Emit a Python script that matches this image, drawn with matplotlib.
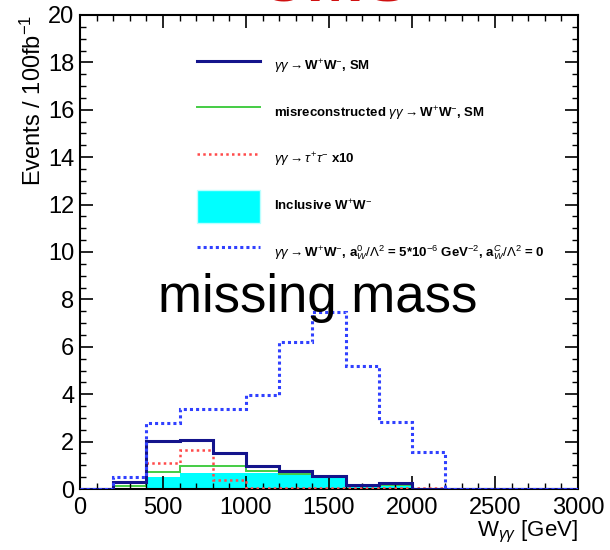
import matplotlib
matplotlib.use("Agg")
import matplotlib.pyplot as plt
from matplotlib.lines import Line2D
from matplotlib.patches import Patch
from matplotlib.ticker import MultipleLocator
import numpy as np

plt.rcParams['font.family'] = ['Liberation Sans', 'DejaVu Sans']
plt.rcParams['mathtext.fontset'] = 'custom'
plt.rcParams['mathtext.rm'] = 'Liberation Sans'
plt.rcParams['mathtext.it'] = 'Liberation Sans:italic'
plt.rcParams['mathtext.bf'] = 'Liberation Sans:bold'

# bin edges (GeV)
bin_edges = [0, 200, 400, 600, 800, 1000, 1200, 1400, 1600, 1800, 2000,
             2200, 2400, 2600, 2800, 3000]

# events / 100 fb^-1 per bin
sm_ww = [0, 0.31, 2.03, 2.07, 1.50, 0.97, 0.75, 0.55, 0.17, 0.26, 0.02, 0, 0, 0, 0]
misreco_ww = [0, 0.12, 0.71, 0.97, 0.97, 0.75, 0.65, 0.50, 0.12, 0.15, 0, 0, 0, 0, 0]
tautau_x10 = [0, 0.30, 1.11, 1.65, 0.38, 0.05, 0.03, 0.03, 0.03, 0.03, 0.03, 0, 0, 0, 0]
inclusive_ww = [0, 0, 0.50, 0.68, 0.68, 0.68, 0.62, 0.50, 0.08, 0.15, 0, 0, 0, 0, 0]
aqgc_ww = [0, 0.52, 2.80, 3.36, 3.36, 3.97, 6.20, 7.48, 5.19, 2.84, 1.58, 0, 0, 0, 0]

labels = [
    r"$\gamma\gamma\rightarrow$W$^{+}$W$^{-}$, SM",
    r"misreconstructed $\gamma\gamma\rightarrow$W$^{+}$W$^{-}$, SM",
    r"$\gamma\gamma\rightarrow\tau^{+}\tau^{-}$ x10",
    r"Inclusive W$^{+}$W$^{-}$",
    r"$\gamma\gamma\rightarrow$W$^{+}$W$^{-}$, a$_{W}^{0}/\Lambda^{2}$ = 5*10$^{-6}$ GeV$^{-2}$, a$_{W}^{C}/\Lambda^{2}$ = 0",
]

c_sm = "#14148c"
c_mis = "#44cc44"
c_tau = "#ff4a4a"
c_inc = "#00ffff"
c_aqgc = "#3040ff"

W, H = 610, 550
fig = plt.figure(figsize=(W / 100, H / 100), dpi=100)
ax = fig.add_axes([80 / W, 1 - 489 / H, (578 - 80) / W, (489 - 15) / H])

ax.stairs(inclusive_ww, bin_edges, fill=True, color=c_inc, zorder=1)
ax.stairs(misreco_ww, bin_edges, color=c_mis, lw=1.4, zorder=2)
ax.stairs(tautau_x10, bin_edges, color=c_tau, lw=1.8, linestyle=(0, (1, 1.3)), zorder=3)
ax.stairs(sm_ww, bin_edges, color=c_sm, lw=2.2, zorder=4)
ax.stairs(aqgc_ww, bin_edges, color=c_aqgc, lw=2.2, linestyle=(0, (1, 1)), zorder=5)

ax.set_xlim(0, 3000)
ax.set_ylim(0, 20)
ax.xaxis.set_major_locator(MultipleLocator(500))
ax.xaxis.set_minor_locator(MultipleLocator(100))
ax.yaxis.set_major_locator(MultipleLocator(2))
ax.yaxis.set_minor_locator(MultipleLocator(0.5))
ax.tick_params(which='both', direction='in', top=True, right=True, color='black')
ax.tick_params(which='major', length=9.5, width=1.2, labelsize=17)
ax.tick_params(which='minor', length=4.5, width=1.0)
ax.tick_params(axis='x', which='major', pad=6)
ax.tick_params(axis='y', which='major', pad=4)
for sp in ax.spines.values():
    sp.set_linewidth(1.5)
ax.set_axisbelow(False)

ax.set_ylabel(r"Events / 100fb$^{-1}$", fontsize=17, ha='right', y=1.0)
ax.yaxis.set_label_coords(-0.068, 1.0)
ax.set_xlabel(r"W$_{\gamma\gamma}$ [GeV]", fontsize=16, ha='right', x=1.0)
ax.xaxis.set_label_coords(1.0, -0.064)

handles = [
    Line2D([], [], color=c_sm, lw=2.2),
    Line2D([], [], color=c_mis, lw=1.4),
    Line2D([], [], color=c_tau, lw=1.8, linestyle=(0, (1, 1.3))),
    Patch(facecolor=c_inc, edgecolor='#bff'),
    Line2D([], [], color=c_aqgc, lw=2.2, linestyle=(0, (1, 1))),
]
fs = 9.5
fpx = fs * 100 / 72
hh = (33 / fpx - 0.245) / 0.65
leg = ax.legend(handles, labels, loc='upper left',
                bbox_to_anchor=(197 / W, 1 - 50.5 / H), bbox_transform=fig.transFigure,
                frameon=False, borderpad=0, borderaxespad=0,
                handlelength=63 / fpx, handleheight=hh,
                labelspacing=13.5 / fpx,
                handletextpad=14 / fpx,
                prop={'size': fs, 'weight': 'bold'})

fig.text(318 / W, 1 - 312 / H, "missing mass", fontsize=38, ha='center', va='baseline')
fig.text(333 / W, 1 - 1.5 / H, "CMS", fontsize=50, color='#d01010', fontweight='bold',
         ha='center', va='baseline')

fig.savefig("out.png", dpi=100)
